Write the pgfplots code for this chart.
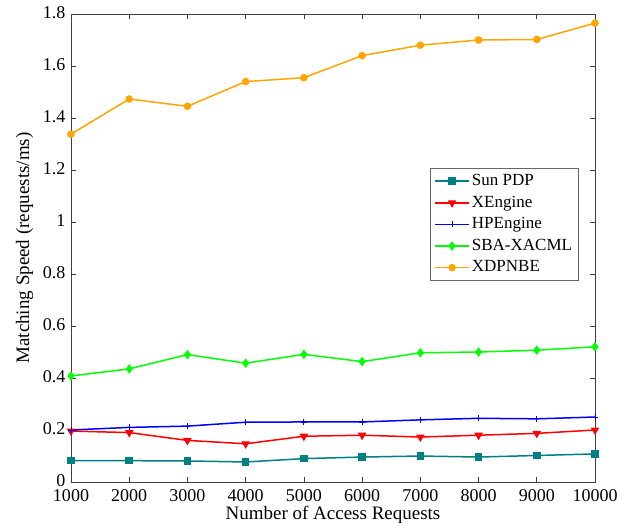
\documentclass[border=0pt]{standalone}
\usepackage{pgfplots}
\pgfplotsset{compat=1.18}
\usepackage{fontspec}
\setmainfont{Liberation Serif}
\definecolor{cteal}{RGB}{0,128,128}
\definecolor{corange}{RGB}{255,165,0}
\definecolor{cgreen}{RGB}{0,255,0}
\begin{document}
\fontsize{19pt}{22pt}\selectfont
\begin{tikzpicture}
\begin{axis}[
  scale only axis, width=524pt, height=468pt,
  xmin=1000, xmax=10000, ymin=0, ymax=1.8,
  xtick={1000,2000,...,10000},
  ytick={0,0.2,...,1.8},
  yticklabels={0,0.2,0.4,0.6,0.8,1,1.2,1.4,1.6,1.8},
  scaled x ticks=false,
  /pgf/number format/1000 sep={},
  /pgf/number format/assume math mode=true,
  tick align=inside, tick pos=both,
  major tick length=5pt,
  axis line style={black!75, line width=0.8pt},
  tick style={black!75, line width=0.7pt},
  ticklabel style={font=\fontsize{18pt}{21pt}\selectfont},
  xticklabel style={yshift=-1pt},
  yticklabel style={xshift=1pt, yshift=1.5pt},
  label style={font=\fontsize{19pt}{22pt}\selectfont},
  xlabel={Number of Access Requests},
  ylabel={Matching Speed (requests/ms)},
  xlabel style={yshift=8pt},
  ylabel style={yshift=-3pt},
  legend style={at={(0.968,0.671)}, anchor=north east, draw=black!60,
    font=\fontsize{17pt}{20pt}\selectfont, row sep=3.5pt, inner xsep=4pt, inner ysep=4pt},
  legend image code/.code={\draw[line width=1.5pt, mark repeat=2,mark phase=2] plot coordinates {(0cm,0cm) (0.6cm,0cm) (1.2cm,0cm)};},
  legend cell align=left,
]
\addplot[line width=1.5pt, color=cteal, mark=square*, mark size=3pt] coordinates {
(1000,0.082)(2000,0.082)(3000,0.081)(4000,0.077)(5000,0.090)(6000,0.096)(7000,0.100)(8000,0.096)(9000,0.102)(10000,0.108)};
\addlegendentry{Sun PDP}
\addplot[line width=1.5pt, color=red, mark=triangle*, mark options={rotate=180}, mark size=3.5pt] coordinates {
(1000,0.196)(2000,0.190)(3000,0.160)(4000,0.147)(5000,0.176)(6000,0.180)(7000,0.173)(8000,0.180)(9000,0.187)(10000,0.200)};
\addlegendentry{XEngine}
\addplot[line width=1.5pt, color=blue, mark=+, mark size=3pt, mark options={line width=0.8pt}] coordinates {
(1000,0.200)(2000,0.210)(3000,0.215)(4000,0.230)(5000,0.231)(6000,0.231)(7000,0.239)(8000,0.245)(9000,0.243)(10000,0.250)};
\addlegendentry{HPEngine}
\addplot[line width=1.5pt, color=cgreen, mark=diamond*, mark size=3.5pt] coordinates {
(1000,0.408)(2000,0.435)(3000,0.490)(4000,0.457)(5000,0.491)(6000,0.463)(7000,0.497)(8000,0.500)(9000,0.507)(10000,0.520)};
\addlegendentry{SBA-XACML}
\addplot[line width=1.5pt, color=corange, mark=*, mark size=3pt] coordinates {
(1000,1.338)(2000,1.473)(3000,1.445)(4000,1.540)(5000,1.555)(6000,1.640)(7000,1.680)(8000,1.700)(9000,1.702)(10000,1.765)};
\addlegendentry{XDPNBE}
\coordinate (ll) at (rel axis cs:0,0);
\coordinate (ur) at (rel axis cs:1,1);
\end{axis}
\pgfresetboundingbox
\path[use as bounding box] ([shift={(-71pt,-46pt)}]ll) rectangle ([shift={(37pt,14pt)}]ur);
\end{tikzpicture}
\end{document}
